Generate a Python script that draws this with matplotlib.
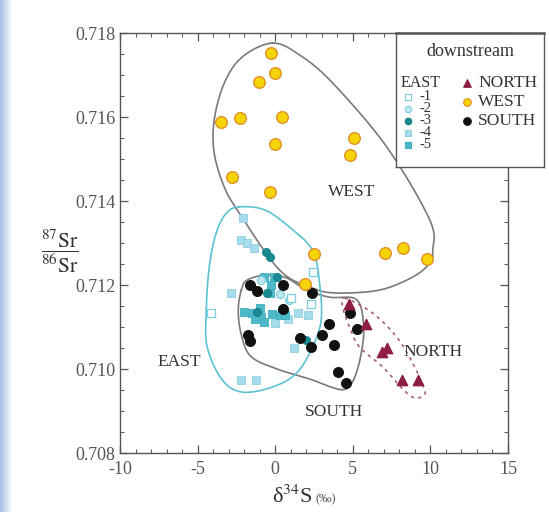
import numpy as np
import matplotlib
matplotlib.use('Agg')
import matplotlib.pyplot as plt
from matplotlib.ticker import MultipleLocator, FormatStrFormatter

plt.rcParams['font.family'] = ['Liberation Serif', 'DejaVu Serif']
plt.rcParams['mathtext.fontset'] = 'stix'
plt.rcParams['axes.unicode_minus'] = False

# samples (d34S, 87Sr/86Sr)
west_x = [-0.27, 0.01, -1.03, -3.49, -2.25, 0.45, 0.01, 5.07, 4.84, -2.81, -0.31, 2.47, 1.95, 7.05, 8.24, 9.75]
west_y = [0.71752, 0.71704, 0.71684, 0.71589, 0.71597, 0.71601, 0.71535, 0.71551, 0.71510,
          0.71458, 0.71421, 0.71274, 0.71202, 0.71276, 0.71287, 0.71261]

north_x = [4.73, 5.83, 6.86, 7.18, 8.15, 9.19]
north_y = [0.71155, 0.71107, 0.71040, 0.71050, 0.70974, 0.70974]

south_x = [-1.6, -1.15, 0.5, 2.4, 0.5, 4.8, 3.45, 5.25, 3.0, 1.6, 2.3, 3.8, -1.75, -1.65, 4.05, 4.55]
south_y = [0.71200, 0.71185, 0.71200, 0.71182, 0.71143, 0.71133, 0.71107, 0.71095, 0.71081,
           0.71073, 0.71053, 0.71057, 0.71082, 0.71066, 0.70994, 0.70967]

# EAST samples by sampling site
east1_x = [-4.15, 1.0, 2.45, 2.3]
east1_y = [0.71133, 0.71168, 0.71232, 0.71155]
east2_x = [0.9, 0.3, -0.9]
east2_y = [0.71165, 0.71178, 0.71212]
east3_x = [-0.6, -0.35, -1.2, -0.5, 2.0, 0.1]
east3_y = [0.71279, 0.71267, 0.71135, 0.71180, 0.71069, 0.71220]
east4_x = [-2.1, -2.2, -1.8, -2.85, -2.2, -1.25, 1.2, 1.5, 2.1, -1.35, 0.0, 0.8]
east4_y = [0.71359, 0.71307, 0.71299, 0.71180, 0.70974, 0.70974, 0.71049, 0.71133, 0.71128,
           0.71287, 0.71110, 0.71120]
east5_x = [-0.7, -0.05, -0.3, -0.35, -2.0, -1.5, -1.0, -0.9, -0.2, 0.3, 0.6, -0.7, -1.3]
east5_y = [0.71220, 0.71220, 0.71200, 0.71180, 0.71136, 0.71133, 0.71145, 0.71125, 0.71130,
           0.71128, 0.71128, 0.71112, 0.71120]

# envelope outlines (closed)
west_env_x = [-0.18, 1.56, 3.7, 7.18, 9.96, 10.15, 9.96, 8.86, 6.73, 3.95, 2.4, 0.27, -2.31, -3.28,
              -3.93, -3.93, -3.28, -2.12]
west_env_y = [0.71776, 0.71748, 0.71681, 0.71529, 0.71355, 0.71283, 0.71252, 0.71219, 0.71188,
              0.71181, 0.71193, 0.71236, 0.71371, 0.71433, 0.71514, 0.71593, 0.71681, 0.71743]
east_env_x = [-2.31, -0.7, 0.92, 2.4, 2.86, 2.96, 2.4, 1.37, -0.18, -2.12, -3.41, -4.38, -4.44, -4.25, -3.8, -3.15]
east_env_y = [0.71386, 0.71379, 0.71338, 0.71283, 0.71205, 0.71117, 0.71052, 0.70990, 0.70957,
              0.70945, 0.70974, 0.71052, 0.71140, 0.71243, 0.71324, 0.71371]
south_env_x = [-2.18, -1.8, -0.57, 0.72, 2.02, 3.5, 5.25, 5.7, 5.5, 5.05, 4.53, 3.76, 2.4, 0.27, -1.54, -2.18, -2.38]
south_env_y = [0.71188, 0.71212, 0.71224, 0.71217, 0.71188, 0.71171, 0.71165, 0.71100, 0.71029,
               0.70974, 0.70952, 0.70955, 0.70974, 0.70998, 0.71029, 0.71081, 0.71140]
north_env_x = [4.47, 6.28, 7.83, 8.86, 9.5, 9.64, 9.0, 8.22, 6.93, 5.44, 4.79, 4.34]
north_env_y = [0.71169, 0.71133, 0.71076, 0.71014, 0.70962, 0.70940, 0.70931, 0.70952, 0.71005,
               0.71052, 0.71100, 0.71148]


def closed_curve(xs, ys, n=24):
    # closed catmull-rom through the outline points
    P = np.column_stack([xs, ys])
    N = len(P)
    t = np.linspace(0, 1, n, endpoint=False)[:, None]
    segs = []
    for i in range(N):
        p0, p1, p2, p3 = P[i - 1], P[i], P[(i + 1) % N], P[(i + 2) % N]
        seg = 0.5 * (2 * p1 + (-p0 + p2) * t + (2 * p0 - 5 * p1 + 4 * p2 - p3) * t ** 2
                     + (-p0 + 3 * p1 - 3 * p2 + p3) * t ** 3)
        segs.append(seg)
    segs.append(segs[0][:1])
    c = np.vstack(segs)
    return c[:, 0], c[:, 1]


fig = plt.figure(figsize=(5.49, 5.12), dpi=100)

# faint blue band at the left edge
bg = fig.add_axes([0, 0, 1, 1], zorder=-5)
grad = np.ones((2, 549, 3))
band = np.clip(1 - np.arange(549) / 12.0, 0, 1)
for k, c in enumerate((0.66, 0.76, 0.90)):
    grad[:, :, k] = 1 - (1 - c) * band
bg.imshow(grad, aspect='auto', extent=[0, 1, 0, 1])
bg.axis('off')

ax = fig.add_axes([120 / 549, 1 - 453 / 512, 388 / 549, 420 / 512])
ax.set_xlim(-10, 15)
ax.set_ylim(0.708, 0.718)

gray = '#7a7a7a'
cx, cy = closed_curve(west_env_x, west_env_y)
ax.plot(cx, cy, color=gray, lw=1.2, zorder=2)
cx, cy = closed_curve(south_env_x, south_env_y)
ax.plot(cx, cy, color=gray, lw=1.2, zorder=2)
cx, cy = closed_curve(east_env_x, east_env_y)
ax.plot(cx, cy, color='#5cc2d2', lw=1.2, zorder=2)
cx, cy = closed_curve(north_env_x, north_env_y)
ax.plot(cx, cy, color='#a8607a', lw=1.2, ls=(0, (2, 2.5)), zorder=2)

ax.scatter(east4_x, east4_y, marker='s', s=30, color='#a6dceb', edgecolors='#8fd0e2', lw=0.6, zorder=3)
ax.scatter(east5_x, east5_y, marker='s', s=30, color='#4db8c8', edgecolors='#3fb0c0', lw=0.6, zorder=3)
ax.scatter(east3_x, east3_y, marker='o', s=34, color='#178a92', edgecolors='#137d85', lw=0.6, zorder=3)
ax.scatter(east2_x, east2_y, marker='o', s=34, color='#bfe6ee', edgecolors='#7ccfe0', lw=0.8, zorder=3)
ax.scatter(east1_x, east1_y, marker='s', s=30, facecolors='white', edgecolors='#7ccfe0', lw=0.9, zorder=3)
ax.scatter(south_x, south_y, marker='o', s=48, color='#111111', zorder=4)
ax.scatter(north_x, north_y, marker='^', s=55, color='#8e1f42', zorder=5)
ax.scatter(west_x, west_y, marker='o', s=70, color='#f6d40a', edgecolors='#e38f26', lw=1.0, zorder=5)

txt = dict(fontsize=12.5, color='#333333', ha='center', va='center')
ax.text(4.9, 0.71421, 'WEST', **txt)
ax.text(-6.2, 0.71017, 'EAST', **txt)
ax.text(3.8, 0.70898, 'SOUTH', **txt)
ax.text(10.2, 0.71040, 'NORTH', **txt)

ax.xaxis.set_major_locator(MultipleLocator(5))
ax.xaxis.set_minor_locator(MultipleLocator(1))
ax.yaxis.set_major_locator(MultipleLocator(0.002))
ax.yaxis.set_minor_locator(MultipleLocator(0.0005))
ax.yaxis.set_major_formatter(FormatStrFormatter('%.3f'))
ax.tick_params(which='both', direction='in', top=True, right=True, colors='#555555',
               labelsize=13, labelcolor='#555555')
ax.tick_params(which='major', length=6, width=0.9)
ax.tick_params(which='minor', length=3, width=0.7)
ax.tick_params(axis='x', pad=6)
for s in ax.spines.values():
    s.set_color('#555555')
    s.set_linewidth(1.0)

fig.text(60 / 549, 1 - 252 / 512, r'$\dfrac{^{87}\mathrm{Sr}}{^{86}\mathrm{Sr}}$',
         fontsize=15.5, color='#333333', ha='center', va='center')
fig.text(312 / 549, 1 - 497 / 512, 'δ$^{34}$S', fontsize=16,
         color='#333333', ha='right', va='center')
fig.text(316 / 549, 1 - 499 / 512, '(‰)', fontsize=9, color='#555555', ha='left', va='center')

# legend box, laid out in pixels inside the box
lg = fig.add_axes([396 / 549, 1 - 167 / 512, 148 / 549, 134 / 512], zorder=6)
lg.set_xlim(0, 148)
lg.set_ylim(134, 0)
lg.set_xticks([])
lg.set_yticks([])
for s in lg.spines.values():
    s.set_color('#555555')
    s.set_linewidth(1.0)
lg.spines['top'].set_linewidth(1.8)
lt = dict(color='#333333', va='center')
lg.text(74, 19, 'downstream', fontsize=13, ha='center', **lt)
lg.text(5, 50, 'EAST', fontsize=11.5, ha='left', **lt)
east_styles = [
    ('-1', 's', 'white', '#7ccfe0'),
    ('-2', 'o', '#bfe6ee', '#7ccfe0'),
    ('-3', 'o', '#178a92', '#137d85'),
    ('-4', 's', '#a6dceb', '#8fd0e2'),
    ('-5', 's', '#4db8c8', '#3fb0c0'),
]
for k, (lab, m, fc, ec) in enumerate(east_styles):
    yy = 64 + k * 12
    lg.scatter([12], [yy], marker=m, s=22, facecolors=fc, edgecolors=ec, lw=0.8)
    lg.text(24, yy, lab, fontsize=10.5, ha='left', **lt)
other = [('NORTH', '^', '#8e1f42', '#8e1f42'), ('WEST', 'o', '#f6d40a', '#e38f26'),
         ('SOUTH', 'o', '#111111', '#111111')]
for k, (lab, m, fc, ec) in enumerate(other):
    yy = 50 + k * 19
    lg.scatter([71], [yy], marker=m, s=30, facecolors=fc, edgecolors=ec, lw=0.8)
    lg.text(82, yy, lab, fontsize=12.5, ha='left', **lt)

fig.savefig('out.png', dpi=100)
